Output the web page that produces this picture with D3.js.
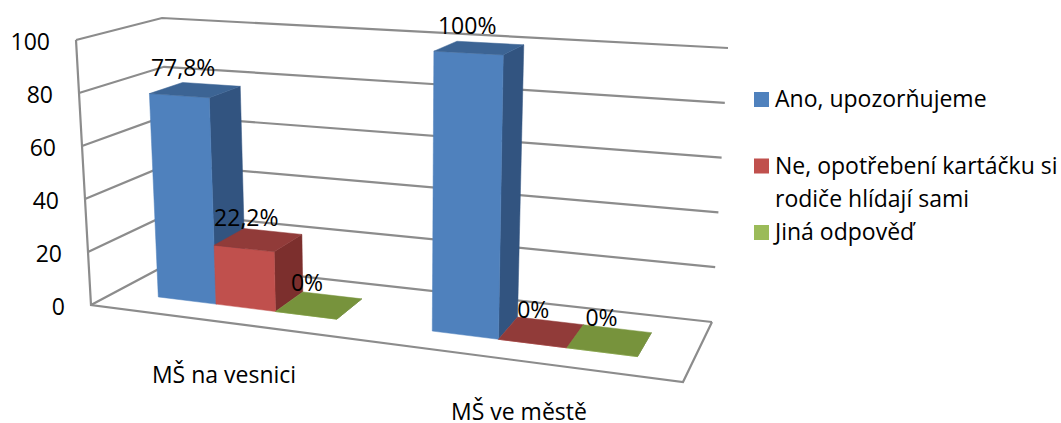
<!DOCTYPE html>
<html lang="cs">
<head>
<meta charset="utf-8">
<title>Upozornění na opotřebení kartáčku</title>
<script src="https://cdn.jsdelivr.net/npm/d3@7"></script>
<style>
  html, body { margin: 0; background: #fff; }
  svg { display: block; }
  text { font-family: "Open Sans", "Noto Sans", sans-serif; font-size: 23px; fill: #000; }
</style>
</head>
<body>
<svg id="chart" width="1061" height="423"></svg>
<script>
// Chart values
const categories = ["MŠ na vesnici", "MŠ ve městě"];
const seriesNames = ["Ano, upozorňujeme", "Ne, opotřebení kartáčku si rodiče hlídají sami", "Jiná odpověď"];
const valuesAno = [77.8, 100];
const valuesNe = [22.2, 0];
const valuesJina = [0, 0];
const valueLabels = [["77,8%", "100%"], ["22,2%", "0%"], ["0%", "0%"]];
const valueTicks = [0, 20, 40, 60, 80, 100];
const legendLines = [["Ano, upozorňujeme"], ["Ne, opotřebení kartáčku si", "rodiče hlídají sami"], ["Jiná odpověď"]];

// Face colours per series: front, side, top
const palette = [
  { front: "#4f81bd", side: "#325480", top: "#3c6494" },
  { front: "#c0504d", side: "#7c2f2d", top: "#913b39" },
  { front: "#9bbb59", side: "#5f7530", top: "#77933c" }
];

const seriesValues = [valuesAno, valuesNe, valuesJina];
const svg = d3.select("#chart");

// Screen corners of the 3D plot box: [across][up][deep]
const corners = {
  "000": [91, 305], "100": [683, 382], "001": [172, 262], "101": [712, 322],
  "010": [76, 40],  "110": [696, 74],  "011": [162, 18],  "111": [728, 48]
};

// Scales into the unit box
const valueScale = d3.scaleLinear().domain([0, 100]).range([0, 1]);
const groupScale = d3.scaleBand().domain(categories).range([0, 1])
  .paddingInner(1 / 3).paddingOuter(1 / 6);
const seriesScale = d3.scaleBand().domain(d3.range(3)).range([0, groupScale.bandwidth()]);
const depthFront = 0.31, depthBack = 0.72;

// Foreshortening along the category direction
const foreshorten = t => t / (t + 1.15 * (1 - t));

// Trilinear lookup inside the box, a = across, v = up, d = deep
function project(a, v, d) {
  const u = foreshorten(a);
  const out = [0, 0];
  for (const i of [0, 1]) for (const j of [0, 1]) for (const k of [0, 1]) {
    const weight = (i ? u : 1 - u) * (j ? v : 1 - v) * (k ? d : 1 - d);
    const c = corners[`${i}${j}${k}`];
    out[0] += weight * c[0];
    out[1] += weight * c[1];
  }
  return out;
}

const line = d3.line();
const wallColor = "#8c8c8c";

// Gridlines running along the left wall and the back wall
svg.append("g").selectAll("path").data(valueTicks).join("path")
  .attr("d", t => {
    const v = valueScale(t);
    return line([project(0, v, 0), project(0, v, 1), project(1, v, 1)]);
  })
  .attr("fill", "none").attr("stroke", wallColor).attr("stroke-width", 2.2);

// Front edge of the left wall and the open edges of the floor
svg.append("path")
  .attr("d", line([project(0, 1, 0), project(0, 0, 0), project(1, 0, 0), project(1, 0, 1)]))
  .attr("fill", "none").attr("stroke", wallColor).attr("stroke-width", 2.2);

// Value axis labels
svg.append("g").selectAll("text").data(valueTicks).join("text")
  .attr("x", t => project(0, valueScale(t), 0)[0] - 26)
  .attr("y", t => project(0, valueScale(t), 0)[1] + 10)
  .attr("text-anchor", "end")
  .text(t => t);

// Category labels under the front edge of the floor
svg.append("g").selectAll("text").data(categories).join("text")
  .attr("x", c => project(groupScale(c) + groupScale.bandwidth() / 2, 0, 0)[0])
  .attr("y", (c, i) => project(groupScale(c) + groupScale.bandwidth() / 2, 0, 0)[1] + 61 - 2 * i)
  .attr("text-anchor", "middle")
  .text(c => c);

// One cuboid per value, drawn left to right so nearer bars overlap the sides
const barLayer = svg.append("g");
const labelLayer = svg.append("g");
categories.forEach((cat, g) => {
  seriesValues.forEach((vals, s) => {
    const x0 = groupScale(cat) + seriesScale(s);
    const x1 = x0 + seriesScale.bandwidth();
    const v = valueScale(vals[g]);
    const col = palette[s];
    const face = (pts, fill) => barLayer.append("path")
      .attr("d", line(pts) + "Z").attr("fill", fill).attr("stroke", fill).attr("stroke-width", 0.5);
    face([project(x1, 0, depthFront), project(x1, 0, depthBack), project(x1, v, depthBack), project(x1, v, depthFront)], col.side);
    face([project(x0, 0, depthFront), project(x1, 0, depthFront), project(x1, v, depthFront), project(x0, v, depthFront)], col.front);
    face([project(x0, v, depthFront), project(x1, v, depthFront), project(x1, v, depthBack), project(x0, v, depthBack)], col.top);

    // Value label above the top face; flat bars in the nearer group sit slightly further right
    const c = project((x0 + x1) / 2, v, (depthFront + depthBack) / 2);
    labelLayer.append("text")
      .attr("x", c[0] - 12 + 4 * g * (1 - v))
      .attr("y", c[1] - 14)
      .attr("text-anchor", "middle")
      .text(valueLabels[s][g]);
  });
});

// Legend
const legendY = d3.scalePoint().domain(seriesNames).range([92, 225]);
const legend = svg.append("g").selectAll("g").data(seriesNames).join("g")
  .attr("transform", d => `translate(754,${legendY(d)})`);
legend.append("rect").attr("width", 15).attr("height", 15)
  .attr("fill", (d, i) => palette[i].front);
legend.each(function (d, i) {
  d3.select(this).selectAll("text").data(legendLines[i]).join("text")
    .attr("x", 21).attr("y", (l, n) => 15 + n * 33).text(l => l);
});
</script>
</body>
</html>
